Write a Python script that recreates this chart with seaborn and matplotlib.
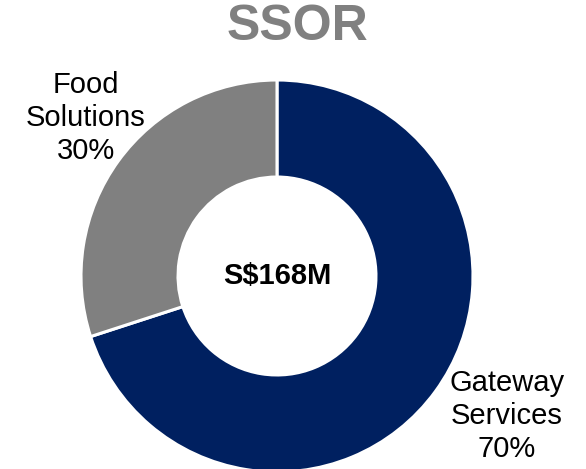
import matplotlib
matplotlib.use("Agg")
import matplotlib.pyplot as plt
import seaborn as sns

# Revenue split for SSOR
categories = ["Gateway\nServices", "Food\nSolutions"]
shares = [70, 30]
colors = ["#002060", "#808080"]
title = "SSOR"
center_label = "S$168M"

sns.set_theme(style="white")
plt.rcParams["font.family"] = ["Liberation Sans", "DejaVu Sans"]

W, H = 586, 469
fig = plt.figure(figsize=(W / 100, H / 100), dpi=100)
ax = fig.add_axes([0, 0, 1, 1])

cx, cy = 277, H - 276
radius = 196

wedges, _ = ax.pie(
    shares,
    colors=colors,
    startangle=90,
    counterclock=False,
    center=(cx, cy),
    radius=radius,
    wedgeprops=dict(width=radius * 0.495, edgecolor="white", linewidth=2.2),
)
ax.set_xlim(0, W)
ax.set_ylim(0, H)
ax.set_aspect("equal")
ax.axis("off")

# Category labels with percentages
label_pos = {"Gateway\nServices": (507, H - 416), "Food\nSolutions": (86, H - 118)}
for cat, val in zip(categories, shares):
    x, y = label_pos[cat]
    ax.text(x, y, f"{cat}\n{val}%", ha="center", va="center",
            fontsize=21, color="black", linespacing=1.22)

ax.text(cx, cy, center_label, ha="center", va="center",
        fontsize=21, fontweight="bold", color="black")

ax.text(297, H - 27, title, ha="center", va="center",
        fontsize=36, fontweight="bold", color="#808080")

fig.savefig("out.png", dpi=100)
